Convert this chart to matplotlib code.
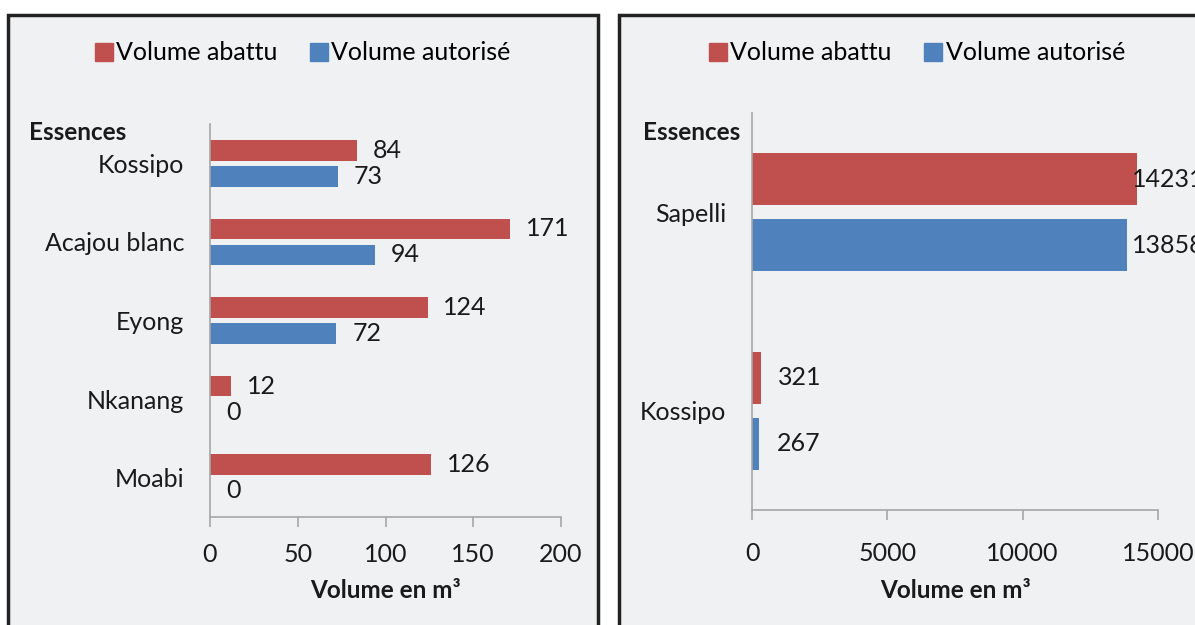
# volume abattu vs volume autorise, two horizontal bar panels
import numpy as np
import matplotlib.pyplot as plt
from matplotlib.patches import Rectangle, Patch

# data - left panel
left_species = ['Kossipo', 'Acajou blanc', 'Eyong', 'Nkanang', 'Moabi']
left_abattu = [84, 171, 124, 12, 126]
left_autorise = [73, 94, 72, 0, 0]

# data - right panel
right_species = ['Sapelli', 'Kossipo']
right_abattu = [14231, 321]
right_autorise = [13858, 267]

red = '#C0504D'
blue = '#4F81BD'
axis_gray = '#A6A6A6'
bg = '#F0F1F3'
txt = '#1A1A1A'

plt.rcParams['font.family'] = ['Lato', 'DejaVu Sans']
fs = 18

fig = plt.figure(figsize=(11.95, 6.25), dpi=100)
W, H = 1195, 625

# panel frames (pixel coords -> figure fraction)
def frame(x0, x1, y0, y1):
    r = Rectangle((x0 / W, 1 - y1 / H), (x1 - x0) / W, (y1 - y0) / H,
                  transform=fig.transFigure, facecolor=bg, edgecolor='#222222',
                  linewidth=2.5, zorder=-10)
    fig.patches.append(r)

frame(8, 598, 15, 640)
frame(619, 1215, 15, 640)


def panel(rect, species, abattu, autorise, xmax, xticks, offset, label_max,
          legend_x, ess_x, ess_y, xpad):
    ax = fig.add_axes(rect, zorder=2)
    ax.patch.set_alpha(0)
    n = len(species)
    pos = np.arange(n)
    h = 0.263
    ax.barh(pos - 0.166, abattu, height=h, color=red)
    ax.barh(pos + 0.166, autorise, height=h, color=blue)
    # value labels, kept inside the plot area like excel does
    for i in range(n):
        ax.text(min(abattu[i] + offset, label_max), pos[i] - 0.166, str(abattu[i]),
                va='center', ha='left', fontsize=fs, color=txt, clip_on=False)
        ax.text(min(autorise[i] + offset, label_max), pos[i] + 0.166, str(autorise[i]),
                va='center', ha='left', fontsize=fs, color=txt, clip_on=False)
    ax.set_ylim(n - 0.5, -0.5)
    ax.set_xlim(0, xmax)
    ax.set_yticks(pos)
    ax.set_yticklabels(species, fontsize=fs, color=txt)
    ax.set_xticks(xticks)
    ax.set_xticklabels([str(t) for t in xticks], fontsize=fs, color=txt)
    ax.tick_params(axis='y', length=0, pad=18.5)
    ax.tick_params(axis='x', length=7, color=axis_gray, width=1.2, pad=xpad)
    for s in ['top', 'right']:
        ax.spines[s].set_visible(False)
    for s in ['left', 'bottom']:
        ax.spines[s].set_color(axis_gray)
        ax.spines[s].set_linewidth(1.2)
    handles = [Patch(color=red, label='Volume abattu'), Patch(color=blue, label='Volume autorisé')]
    fig.legend(handles=handles, loc='center', bbox_to_anchor=(legend_x / W, 1 - 53 / H),
               ncol=2, frameon=False, fontsize=fs, handlelength=0.7, handleheight=0.7,
               handletextpad=0.15, columnspacing=1.3)
    fig.text(ess_x / W, 1 - ess_y / H, 'Essences', fontsize=fs - 0.5, fontweight='bold',
             color=txt, ha='left', va='center')
    # axis title at a fixed height in both panels
    cx = rect[0] + rect[2] / 2
    fig.text(cx, 1 - 590 / H, 'Volume en m³', fontsize=fs - 0.5, fontweight='bold',
             color=txt, ha='center', va='center')
    return ax


panel([210 / W, 1 - 517 / H, 351 / W, 393 / H], left_species, left_abattu, left_autorise,
      200, [0, 50, 100, 150, 200], 9, 1e9, 303, 29, 132, 12)
panel([752 / W, 1 - 510 / H, 406 / W, 397 / H], right_species, right_abattu, right_autorise,
      15000, [0, 5000, 10000, 15000], 650, 14050, 917, 643, 133, 16)

plt.savefig('out.png', dpi=100)
